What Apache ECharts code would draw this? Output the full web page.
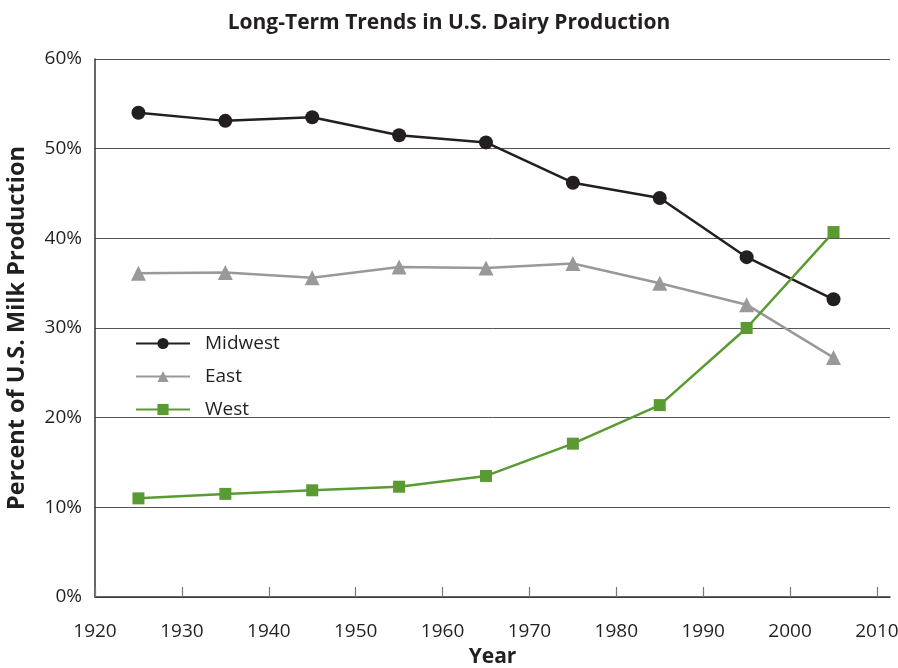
<!DOCTYPE html>
<html>
<head>
<meta charset="utf-8">
<title>Long-Term Trends in U.S. Dairy Production</title>
<script src="https://cdn.jsdelivr.net/npm/echarts@6/dist/echarts.min.js"></script>
<style>
  html, body { margin: 0; padding: 0; background: #fff; }
  #chart { width: 898px; height: 668px; }
</style>
</head>
<body>
<div id="chart"></div>
<script>
// data
var years = [1925, 1935, 1945, 1955, 1965, 1975, 1985, 1995, 2005];
var midwest = [54.0, 53.1, 53.5, 51.5, 50.7, 46.2, 44.5, 37.9, 33.2];
var east = [36.1, 36.2, 35.6, 36.8, 36.7, 37.2, 35.0, 32.6, 26.7];
var west = [11.0, 11.5, 11.9, 12.3, 13.5, 17.1, 21.4, 30.0, 40.7];
var xTicks = [1920, 1930, 1940, 1950, 1960, 1970, 1980, 1990, 2000, 2010];

var FONT = 'Open Sans';
var TEXT = '#231f20';

function pairs(vals) {
  return years.map(function (y, i) { return [y, vals[i]]; });
}

var chart = echarts.init(document.getElementById('chart'));
chart.setOption({
  animation: false,
  textStyle: { fontFamily: FONT, color: TEXT },
  title: {
    text: 'Long-Term Trends in U.S. Dairy Production',
    left: 'center',
    top: 8,
    textStyle: { fontFamily: FONT, fontSize: 21, fontWeight: 'bold', color: TEXT },
  },
  legend: {
    orient: 'vertical',
    left: 130,
    top: 329,
    itemWidth: 54,
    itemHeight: 14,
    itemGap: 14,
    textStyle: { fontFamily: FONT, fontSize: 19, color: TEXT, padding: [0, 0, 0, 10] },
    data: ['Midwest', 'East', 'West'],
  },
  grid: {
    left: 95,
    right: 8,
    top: 59,
    bottom: 71,
    outerBoundsMode: 'none',
  },
  xAxis: {
    type: 'value',
    min: 1920,
    max: 2011.5,
    interval: 10,
    name: 'Year',
    nameLocation: 'middle',
    nameGap: 50,
    nameTextStyle: { fontFamily: FONT, fontSize: 21, fontWeight: 'bold', color: TEXT },
    splitLine: { show: false },
    axisLine: { lineStyle: { color: '#333', width: 1.5 } },
    axisTick: {
      inside: true,
      length: 10,
      customValues: xTicks,
      lineStyle: { color: '#777', width: 1.2 },
    },
    axisLabel: {
      customValues: xTicks,
      margin: 25,
      fontSize: 19,
      color: TEXT,
      fontFamily: FONT,
      formatter: function (v) { return String(v); },
    },
  },
  yAxis: {
    type: 'value',
    min: 0,
    max: 60,
    interval: 10,
    name: 'Percent of U.S. Milk Production',
    nameLocation: 'middle',
    nameGap: 66,
    nameTextStyle: { fontFamily: FONT, fontSize: 23.5, fontWeight: 'bold', color: TEXT },
    axisLine: { show: true, lineStyle: { color: '#333', width: 1.5 } },
    axisTick: { show: false },
    axisLabel: {
      margin: 13,
      fontSize: 19,
      color: TEXT,
      fontFamily: FONT,
      formatter: '{value}%',
    },
    splitLine: { lineStyle: { color: '#555', width: 1 } },
  },
  series: [
    {
      name: 'Midwest',
      type: 'line',
      data: pairs(midwest),
      symbol: 'circle',
      symbolSize: 14,
      color: '#231f20',
      lineStyle: { width: 2.5 },
    },
    {
      name: 'East',
      type: 'line',
      data: pairs(east),
      symbol: 'triangle',
      symbolSize: 15,
      color: '#999999',
      lineStyle: { width: 2.5 },
    },
    {
      name: 'West',
      type: 'line',
      data: pairs(west),
      symbol: 'rect',
      symbolSize: 12,
      color: '#5a9a32',
      lineStyle: { width: 2.5 },
    },
  ],
});
window.addEventListener('resize', function () { chart.resize(); });
</script>
</body>
</html>
